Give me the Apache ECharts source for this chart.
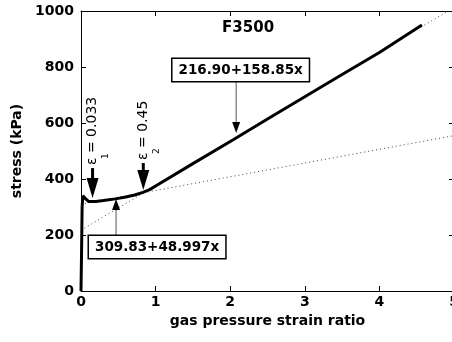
<!DOCTYPE html>
<html><head><meta charset="utf-8">
<script src="https://cdn.jsdelivr.net/npm/echarts@6/dist/echarts.min.js"></script>
<style>html,body{margin:0;padding:0;background:#fff}#c{width:452px;height:342px}</style>
</head><body><div id="c"></div><script>
// ---- data ----
const strainRatio = [0, 0.008, 0.015, 0.025, 0.04, 0.06, 0.1, 0.2, 0.3, 0.46, 0.6, 0.72, 0.83, 0.92, 1.0, 1.5, 2.04, 2.5, 3.0, 3.5, 4.0, 4.57];
const stress      = [0, 150,   300,   340,   345,  330,  320, 320, 323, 329,  336, 343,  352,  362,  375, 455, 540,  614, 694, 773, 852, 950];
const steepFitX   = [0, 4.92];
const steepFitY   = [217, 1000];
const shallowFitX = [0, 5];
const shallowFitY = [310, 555];
const xTicks = [0, 1, 2, 3, 4, 5];
const yTicks = [0, 200, 400, 600, 800, 1000];
const panelName = 'F3500';
const panelAt = [2.24, 939];
const fitLabels = ['216.90+158.85x', '309.83+48.997x'];
const fitLabelAt = [[2.14, 789], [1.02, 157]];
const fitArrowX = [2.08, 0.47];
const fitArrowFrom = [754, 193];
const fitArrowTo = [564, 329];
const strainLabels = ['ε = 0.033', 'ε = 0.45'];
const strainSubs = ['1', '2'];
const strainArrowX = [0.155, 0.835];
const strainArrowFrom = [439, 457];
const strainArrowTo = [332, 361];

const FONT = 'DejaVu Sans';
const zip = (a, b) => a.map((v, i) => [v, b[i]]);

function arrow(api, x, y0, y1, headW, headL, stemW, stemColor) {
  const p0 = api.coord([x, y0]);
  const p1 = api.coord([x, y1]);
  const dir = Math.sign(p1[1] - p0[1]);
  const baseY = p1[1] - dir * headL;
  return [
    {type: 'line', shape: {x1: p0[0], y1: p0[1], x2: p0[0], y2: baseY}, style: {stroke: stemColor, lineWidth: stemW}},
    {type: 'polygon', shape: {points: [[p1[0] - headW / 2, baseY], [p1[0] + headW / 2, baseY], [p1[0], p1[1]]]}, style: {fill: '#000'}}
  ];
}

function renderAnnotations(params, api) {
  const children = [];
  const pc = api.coord(panelAt);
  children.push({type: 'text', x: pc[0], y: pc[1], style: {text: panelName, fontFamily: FONT, fontWeight: 'bold', fontSize: 15, fill: '#000', align: 'center', verticalAlign: 'middle'}});
  strainArrowX.forEach((x, i) => {
    children.push(...arrow(api, x, strainArrowFrom[i], strainArrowTo[i], 12, 20, 3, '#000'));
    const p0 = api.coord([x, strainArrowFrom[i]]);
    children.push({type: 'text', x: p0[0], y: p0[1] - 3, rotation: Math.PI / 2,
      style: {text: strainLabels[i], fontFamily: FONT, fontSize: 14, fill: '#000', align: 'left', verticalAlign: 'middle'}});
    children.push({type: 'text', x: p0[0] + 13, y: p0[1] - 12, rotation: Math.PI / 2,
      style: {text: strainSubs[i], fontFamily: FONT, fontSize: 9, fill: '#000', align: 'center', verticalAlign: 'middle'}});
  });
  fitLabels.forEach((t, i) => {
    children.push(...arrow(api, fitArrowX[i], fitArrowFrom[i], fitArrowTo[i], 8, 11, 1, '#555'));
    const c = api.coord(fitLabelAt[i]);
    children.push({type: 'text', x: c[0], y: c[1], z2: 10,
      style: {text: t, fontFamily: FONT, fontWeight: 'bold', fontSize: 13.5, fill: '#000', align: 'center', verticalAlign: 'middle',
        backgroundColor: '#fff', borderColor: '#000', borderWidth: 1.5, padding: [4, 6]}});
  });
  return {type: 'group', children};
}

const axisFont = {fontFamily: FONT, fontWeight: 'bold', fontSize: 14, color: '#000'};
const boxAxis = (extra) => Object.assign({
  type: 'value',
  axisLine: {show: true, onZero: false, lineStyle: {color: '#000', width: 1}},
  axisTick: {show: true, inside: true, length: 5, lineStyle: {color: '#000', width: 1}},
  splitLine: {show: false}
}, extra);

const chart = echarts.init(document.getElementById('c'), null, {renderer: 'canvas'});
chart.setOption({
  animation: false,
  backgroundColor: '#fff',
  grid: {left: 81, top: 11, width: 373, height: 280, containLabel: false, outerBoundsMode: 'none'},
  xAxis: [
    boxAxis({min: xTicks[0], max: xTicks[xTicks.length - 1], interval: xTicks[1] - xTicks[0], position: 'bottom',
      axisLabel: Object.assign({margin: 4, formatter: v => String(v)}, axisFont),
      name: 'gas pressure strain ratio', nameLocation: 'middle', nameGap: 21,
      nameTextStyle: {fontFamily: FONT, fontWeight: 'bold', fontSize: 14, color: '#000'}}),
    boxAxis({min: xTicks[0], max: xTicks[xTicks.length - 1], interval: xTicks[1] - xTicks[0], position: 'top', axisLabel: {show: false}})
  ],
  yAxis: [
    boxAxis({min: yTicks[0], max: yTicks[yTicks.length - 1], interval: yTicks[1] - yTicks[0], position: 'left',
      axisLabel: Object.assign({margin: 7, formatter: v => String(v)}, axisFont),
      name: 'stress (kPa)', nameLocation: 'middle', nameGap: 57, nameRotate: 90,
      nameTextStyle: {fontFamily: FONT, fontWeight: 'bold', fontSize: 14, color: '#000'}}),
    boxAxis({min: yTicks[0], max: yTicks[yTicks.length - 1], interval: yTicks[1] - yTicks[0], position: 'right', axisLabel: {show: false}})
  ],
  series: [
    {type: 'line', data: zip(steepFitX, steepFitY), showSymbol: false, silent: true,
      lineStyle: {color: '#444', width: 1, type: [1, 3]}, z: 2},
    {type: 'line', data: zip(shallowFitX, shallowFitY), showSymbol: false, silent: true,
      lineStyle: {color: '#444', width: 1, type: [1, 3]}, z: 2},
    {type: 'line', data: zip(strainRatio, stress), showSymbol: false, silent: true,
      lineStyle: {color: '#000', width: 3}, z: 3},
    {type: 'custom', data: [[0, 0]], renderItem: renderAnnotations, clip: false, silent: true, z: 5}
  ]
});
</script></body></html>
